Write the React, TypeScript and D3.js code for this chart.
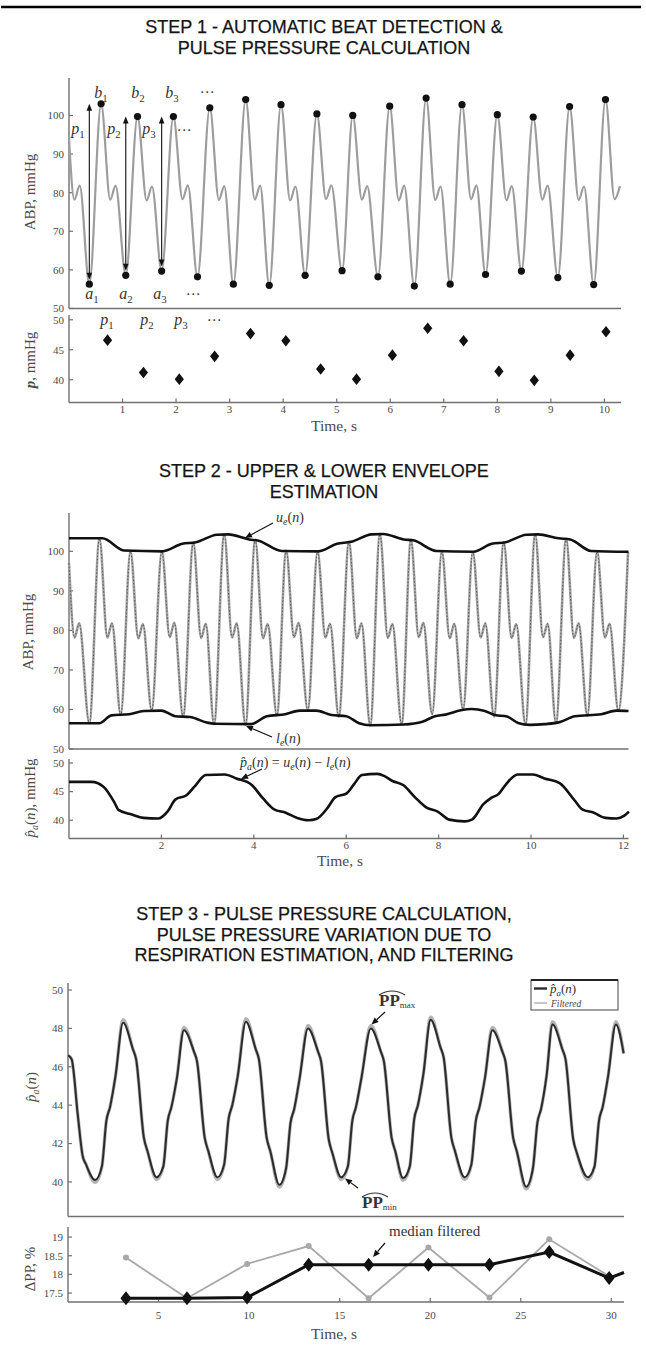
import React from 'react';
import * as d3 from 'd3';

// ---------------- STEP 1 data ----------------
const s1StartT = [0, 0.1, 0.2];
const s1StartV = [94.0, 78.2, 81.8];
const s1TroughT = [0.38, 1.06, 1.73, 2.4, 3.07, 3.74, 4.41, 5.1, 5.77, 6.45, 7.12, 7.78, 8.45, 9.13, 9.8];
const s1TroughV = [56.3, 58.6, 59.7, 58.2, 56.3, 56.0, 58.6, 59.8, 58.2, 55.8, 56.3, 58.8, 59.7, 58.0, 56.2];
const s1PeakT = [0.6, 1.28, 1.95, 2.63, 3.3, 3.96, 4.63, 5.3, 5.99, 6.67, 7.34, 8.0, 8.67, 9.35, 10.02];
const s1PeakV = [103.0, 99.7, 99.7, 102.0, 104.1, 102.8, 100.4, 100.0, 102.4, 104.5, 102.8, 100.2, 99.6, 102.3, 104.1];
const s1NotchT = [0.77, 1.45, 2.12, 2.8, 3.47, 4.13, 4.8, 5.47, 6.16, 6.84, 7.51, 8.17, 8.84, 9.52, 10.19];
const s1NotchV = [78.2, 78.0, 78.3, 78.1, 78.2, 78.0, 78.3, 78.2, 78.0, 78.1, 78.3, 78.0, 78.2, 78.1, 78.3];
const s1BumpT = [0.87, 1.55, 2.22, 2.9, 3.57, 4.23, 4.9, 5.57, 6.26, 6.94, 7.61, 8.27, 8.94, 9.62, 10.29];
const s1BumpV = [81.8, 81.6, 81.9, 81.7, 81.8, 81.6, 81.9, 81.7, 81.8, 81.6, 81.9, 81.7, 81.8, 81.6, 81.7];
const s1PT = [0.72, 1.39, 2.06, 2.72, 3.39, 4.05, 4.7, 5.37, 6.04, 6.7, 7.37, 8.03, 8.69, 9.36, 10.03];
const s1PV = [46.6, 41.2, 40.1, 43.9, 47.7, 46.5, 41.8, 40.1, 44.1, 48.6, 46.5, 41.4, 39.9, 44.1, 48.0];
const s1XTicks = [1, 2, 3, 4, 5, 6, 7, 8, 9, 10];
const s1YTicks = [50, 60, 70, 80, 90, 100];
const s1PTicks = [40, 45, 50];

// ---------------- STEP 2 data ----------------
const s2StartT = [0, 0.12, 0.22];
const s2StartV = [97.0, 78.2, 81.8];
const s2TroughT = [0.44, 1.12, 1.79, 2.47, 3.14, 3.82, 4.5, 5.17, 5.84, 6.52, 7.2, 7.86, 8.53, 9.2, 9.88, 10.54, 11.22, 11.89];
const s2TroughV = [56.5, 58.6, 59.7, 58.2, 56.3, 56.1, 58.6, 59.8, 58.2, 56.0, 56.3, 58.8, 60.0, 58.2, 56.2, 56.5, 58.4, 59.7];
const s2PeakT = [0.66, 1.33, 2.01, 2.69, 3.36, 4.03, 4.7, 5.38, 6.06, 6.73, 7.4, 8.07, 8.74, 9.41, 10.09, 10.76, 11.43, 12.1];
const s2PeakV = [103.2, 100.0, 100.0, 102.2, 104.3, 102.9, 100.2, 100.0, 102.4, 104.4, 102.9, 100.0, 99.9, 102.3, 104.3, 103.2, 100.0, 99.8];
const s2NotchT = [0.83, 1.5, 2.18, 2.86, 3.53, 4.2, 4.87, 5.55, 6.23, 6.9, 7.57, 8.24, 8.91, 9.58, 10.26, 10.93, 11.6];
const s2NotchV = [78.2, 78.0, 78.3, 78.1, 78.2, 78.0, 78.3, 78.2, 78.0, 78.1, 78.3, 78.0, 78.2, 78.1, 78.3, 78.1, 78.2];
const s2BumpT = [0.93, 1.6, 2.28, 2.96, 3.63, 4.3, 4.97, 5.65, 6.33, 7.0, 7.67, 8.34, 9.01, 9.68, 10.36, 11.03, 11.7];
const s2BumpV = [81.8, 81.6, 81.9, 81.7, 81.8, 81.6, 81.9, 81.7, 81.8, 81.6, 81.9, 81.7, 81.8, 81.6, 81.7, 81.8, 81.7];
const s2UpperT = [0, 0.72, 1.2, 2.02, 2.45, 2.75, 3.2, 3.45, 3.9, 4.1, 4.6, 5.4, 5.8, 6.1, 6.55, 6.8, 7.25, 7.45, 7.95, 8.75, 9.15, 9.45, 9.9, 10.15, 10.6, 10.85, 11.3, 12.11];
const s2UpperV = [103.3, 103.3, 100.2, 100.0, 101.9, 102.3, 104.2, 104.3, 103.0, 102.7, 100.1, 100.0, 101.9, 102.4, 104.3, 104.4, 103.0, 102.8, 100.1, 99.9, 101.9, 102.3, 104.2, 104.3, 103.3, 103.0, 100.1, 99.9];
const s2LowerT = [0, 0.65, 0.92, 1.3, 1.62, 2.0, 2.3, 2.62, 2.98, 3.15, 3.95, 4.28, 4.68, 5.0, 5.35, 5.68, 6.0, 6.28, 6.52, 7.25, 7.65, 7.92, 8.15, 8.48, 8.72, 8.98, 9.22, 9.48, 9.72, 9.98, 10.3, 10.62, 10.95, 11.52, 11.85, 12.11];
const s2LowerV = [56.5, 56.5, 58.5, 58.8, 59.6, 59.7, 58.3, 58.1, 56.7, 56.4, 56.3, 58.3, 58.8, 59.7, 59.7, 58.6, 58.3, 56.5, 56.0, 56.2, 56.9, 58.3, 58.7, 59.8, 60.1, 59.7, 58.6, 58.2, 56.6, 56.1, 56.3, 56.8, 58.3, 58.8, 59.7, 59.6];
const s2PaT = [0, 0.49, 0.74, 0.99, 1.07, 1.36, 1.61, 1.93, 2.14, 2.3, 2.55, 2.72, 2.96, 3.37, 3.62, 3.95, 4.2, 4.44, 4.69, 4.94, 5.19, 5.35, 5.6, 5.76, 6.01, 6.17, 6.34, 6.67, 6.83, 6.99, 7.24, 7.49, 7.74, 7.98, 8.23, 8.56, 8.72, 8.97, 9.14, 9.3, 9.47, 9.71, 10.04, 10.29, 10.62, 10.95, 11.11, 11.36, 11.61, 11.85, 12.02, 12.12];
const s2PaV = [46.7, 46.7, 45.9, 43.0, 41.8, 41.0, 40.4, 40.3, 41.6, 43.6, 44.4, 45.9, 47.9, 48.0, 47.3, 46.2, 43.8, 41.9, 41.3, 40.4, 40.0, 40.2, 42.2, 44.0, 44.7, 46.3, 47.9, 48.1, 47.7, 46.9, 46.1, 44.0, 42.2, 41.5, 40.1, 39.8, 40.1, 42.8, 43.9, 44.6, 46.4, 48.0, 48.0, 47.3, 46.5, 43.4, 41.9, 41.3, 40.4, 40.3, 40.8, 41.5];
const s2XTicks = [2, 4, 6, 8, 10, 12];
const s2YTicks = [50, 60, 70, 80, 90, 100];
const s2PTicks = [40, 45, 50];

// ---------------- STEP 3 data ----------------
const s3StartT = [0, 0.2, 0.55, 0.8, 1.0];
const s3StartV = [46.6, 46.4, 43.4, 41.4, 40.9];
const s3TroughT = [1.5, 4.89, 8.25, 11.67, 15.08, 18.5, 21.9, 25.3, 28.7];
const s3TroughV = [40.1, 40.25, 40.25, 39.85, 40.25, 40.2, 40.25, 39.75, 40.25];
const s3FiltTroughV = [39.98, 40.13, 40.13, 39.73, 40.13, 40.08, 40.13, 39.63, 40.13];
const s3RiseAT = [1.87, 5.26, 8.62, 12.04, 15.45, 18.87, 22.27, 25.67, 29.07];
const s3RiseAV = [40.8, 40.8, 40.9, 40.7, 40.8, 40.8, 40.9, 40.7, 40.8];
const s3RiseBT = [2.12, 5.51, 8.87, 12.29, 15.7, 19.12, 22.52, 25.92, 29.32];
const s3RiseBV = [43.2, 43.2, 43.3, 43.1, 43.2, 43.3, 43.2, 43.1, 43.2];
const s3RiseCT = [2.32, 5.71, 9.07, 12.49, 15.9, 19.32, 22.72, 26.12, 29.52];
const s3RiseCV = [43.9, 43.9, 44.0, 43.8, 43.9, 44.0, 43.9, 43.8, 43.9];
const s3RiseDT = [2.62, 6.01, 9.37, 12.79, 16.2, 19.62, 23.02, 26.42, 29.82];
const s3RiseDV = [45.5, 45.4, 45.5, 45.4, 45.4, 45.6, 45.4, 45.5, 45.5];
const s3PeakT = [3.04, 6.4, 9.82, 13.25, 16.72, 20.02, 23.43, 26.75, 30.25];
const s3PeakV = [48.3, 47.9, 48.35, 48.0, 48.0, 48.45, 47.9, 48.2, 48.2];
const s3FiltPeakV = [48.45, 48.05, 48.5, 48.15, 48.15, 48.6, 48.05, 48.35, 48.35];
const s3FallAT = [3.59, 6.95, 10.37, 13.8, 17.27, 20.57, 23.98, 27.3];
const s3FallAV = [46.9, 46.8, 46.9, 46.8, 46.8, 47.0, 46.8, 46.9];
const s3FallBT = [3.76, 7.12, 10.54, 13.97, 17.44, 20.74, 24.15, 27.47];
const s3FallBV = [46.4, 46.3, 46.4, 46.3, 46.3, 46.5, 46.3, 46.4];
const s3FallCT = [4.19, 7.55, 10.97, 14.4, 17.87, 21.17, 24.58, 27.9];
const s3FallCV = [42.3, 42.3, 42.3, 42.2, 42.3, 42.3, 42.3, 42.2];
const s3FallDT = [4.39, 7.75, 11.17, 14.6, 18.07, 21.37, 24.78, 28.1];
const s3FallDV = [41.6, 41.6, 41.6, 41.5, 41.6, 41.6, 41.6, 41.5];
const s3EndT = [30.68];
const s3EndV = [46.7];
const s3DT = [3.2, 6.57, 9.89, 13.29, 16.6, 19.9, 23.27, 26.57, 29.88];
const s3DeltaPP = [18.45, 17.36, 18.28, 18.76, 17.36, 18.72, 17.38, 18.94, 17.95];
const s3MedianPP = [17.36, 17.36, 17.38, 18.26, 18.26, 18.26, 18.26, 18.6, 17.9];
const s3MedianEndT = [30.7];
const s3MedianEndV = [18.05];
const s3XTicks = [5, 10, 15, 20, 25, 30];
const s3YTicks = [40, 42, 44, 46, 48, 50];
const s3DTicks = [17.5, 18, 18.5, 19];

// ---------------- helpers ----------------
const AX = '#707070';
const TXT = '#4a4a4a';
const SERIF = '"Liberation Serif", "Times New Roman", "DejaVu Serif", serif';
const SANS = '"Liberation Sans", Arial, Helvetica, sans-serif';

type P2 = [number, number];
function merge(...pairs: [number[], number[]][]): P2[] {
  const out: P2[] = [];
  pairs.forEach(([ts, vs]) => ts.forEach((t, i) => out.push([t, vs[i]])));
  return out.sort((a, b) => a[0] - b[0]);
}

function LeftAxis({ x, top, bottom, y, ticks, size = 11 }: any) {
  return (
    <g>
      <line x1={x} x2={x} y1={top} y2={bottom} stroke={AX} strokeWidth={1.4} />
      {ticks.map((t: number) => (
        <g key={t}>
          <line x1={x} x2={x + 4} y1={y(t)} y2={y(t)} stroke={AX} strokeWidth={1.2} />
          <text x={x - 5} y={y(t)} dy="0.35em" textAnchor="end" fontSize={size} fill={TXT} fontFamily={SERIF}>
            {String(t)}
          </text>
        </g>
      ))}
    </g>
  );
}

function BottomAxis({ y0, left, right, x, ticks, labelY, size = 11 }: any) {
  return (
    <g>
      <line x1={left} x2={right} y1={y0} y2={y0} stroke={AX} strokeWidth={1.4} />
      {ticks &&
        ticks.map((t: number) => (
          <g key={t}>
            <line x1={x(t)} x2={x(t)} y1={y0} y2={y0 - 4} stroke={AX} strokeWidth={1.2} />
            <text x={x(t)} y={labelY} textAnchor="middle" fontSize={size} fill={TXT} fontFamily={SERIF}>
              {String(t)}
            </text>
          </g>
        ))}
    </g>
  );
}

function Arrow({ x1, y1, x2, y2, len = 7, w = 3, color = '#111', sw = 1.2 }: any) {
  const a = Math.atan2(y2 - y1, x2 - x1);
  const bx = x2 - len * Math.cos(a);
  const by = y2 - len * Math.sin(a);
  const px = -Math.sin(a) * w;
  const py = Math.cos(a) * w;
  return (
    <g>
      <line x1={x1} y1={y1} x2={bx} y2={by} stroke={color} strokeWidth={sw} />
      <polygon points={`${x2},${y2} ${bx + px},${by + py} ${bx - px},${by - py}`} fill={color} />
    </g>
  );
}

function Title({ lines, y0 }: { lines: string[]; y0: number }) {
  return (
    <g>
      {lines.map((l, i) => (
        <text key={i} x={324} y={y0 + i * 20.5} textAnchor="middle" fontSize={18} fontFamily={SANS} fill="#151515" stroke="#151515" strokeWidth={0.25}>
          {l}
        </text>
      ))}
    </g>
  );
}

function MathSub({ x, y, m, s, size = 16, anchor = 'middle' }: any) {
  return (
    <text x={x} y={y} textAnchor={anchor} fontFamily={SERIF} fontSize={size} fill="#333">
      <tspan fontStyle="italic">{m}</tspan>
      <tspan fontSize={size * 0.68} dy={size * 0.22}>{s}</tspan>
    </text>
  );
}

const Dots = ({ x, y, size = 15 }: any) => (
  <text x={x} y={y} textAnchor="middle" fontFamily='"DejaVu Sans", sans-serif' fontSize={size} fill="#444">⋯</text>
);

const diamond = (hw: number, hh: number) => `M0,${-hh}L${hw},0L0,${hh}L${-hw},0Z`;

// ---------------- component ----------------
export default function App() {
  // STEP 1 scales
  const x1 = d3.scaleLinear().domain([0, 10.31]).range([69, 621]);
  const y1 = d3.scaleLinear().domain([50, 109.7]).range([308.5, 78]);
  const y1b = d3.scaleLinear().domain([36.2, 50.8]).range([402.5, 315]);
  const wave1 = merge([s1StartT, s1StartV], [s1TroughT, s1TroughV], [s1PeakT, s1PeakV], [s1NotchT, s1NotchV], [s1BumpT, s1BumpV]);
  const line1 = d3.line<P2>().x((d) => x1(d[0])).y((d) => y1(d[1])).curve(d3.curveMonotoneX);

  // STEP 2 scales
  const x2 = d3.scaleLinear().domain([0, 12.11]).range([69, 628.5]);
  const y2 = d3.scaleLinear().domain([50, 109.7]).range([749, 513]);
  const y2b = d3.scaleLinear().domain([36.8, 50.7]).range([838.5, 759]);
  const wave2 = merge([s2StartT, s2StartV], [s2TroughT, s2TroughV], [s2PeakT, s2PeakV], [s2NotchT, s2NotchV], [s2BumpT, s2BumpV]);
  const line2 = d3.line<P2>().x((d) => x2(d[0])).y((d) => y2(d[1])).curve(d3.curveMonotoneX);
  const upper = merge([s2UpperT, s2UpperV]);
  const lower = merge([s2LowerT, s2LowerV]);
  const pa2 = merge([s2PaT, s2PaV]);
  const line2b = d3.line<P2>().x((d) => x2(d[0])).y((d) => y2b(d[1])).curve(d3.curveMonotoneX);

  // STEP 3 scales
  const x3 = d3.scaleLinear().domain([0, 30.7]).range([68, 624]);
  const y3 = d3.scaleLinear().domain([38.2, 50.35]).range([1216.5, 983.3]);
  const y3b = d3.scaleLinear().domain([17.26, 19.27]).range([1302, 1227]);
  const shoulders: [number[], number[]][] = [
    [s3StartT, s3StartV], [s3RiseAT, s3RiseAV], [s3RiseBT, s3RiseBV], [s3RiseCT, s3RiseCV], [s3RiseDT, s3RiseDV],
    [s3FallAT, s3FallAV], [s3FallBT, s3FallBV], [s3FallCT, s3FallCV], [s3FallDT, s3FallDV], [s3EndT, s3EndV],
  ];
  const raw3 = merge(...shoulders, [s3TroughT, s3TroughV], [s3PeakT, s3PeakV]);
  const filt3 = merge(...shoulders, [s3TroughT, s3FiltTroughV], [s3PeakT, s3FiltPeakV]);
  const line3 = d3.line<P2>().x((d) => x3(d[0])).y((d) => y3(d[1])).curve(d3.curveMonotoneX);
  const dpp = merge([s3DT, s3DeltaPP]);
  const med = merge([s3DT, s3MedianPP], [s3MedianEndT, s3MedianEndV]);
  const line3b = d3.line<P2>().x((d) => x3(d[0])).y((d) => y3b(d[1]));

  const yLab = (x: number, y: number, content: any, size = 15) => (
    <text transform={`translate(${x},${y}) rotate(-90)`} textAnchor="middle" fontFamily={SERIF} fontSize={size} fill={TXT}>
      {content}
    </text>
  );

  return (
    <svg width={646} height={1355} style={{ position: 'absolute', left: 0, top: 0, background: '#fff' }} fontFamily={SERIF}>
      <rect x={0} y={0} width={646} height={1355} fill="#fff" />
      <line x1={1} x2={641} y1={7} y2={7} stroke="#000" strokeWidth={2.6} />

      {/* ================= STEP 1 ================= */}
      <Title lines={['STEP 1 - AUTOMATIC BEAT DETECTION &', 'PULSE PRESSURE CALCULATION']} y0={33} />
      <LeftAxis x={69} top={78} bottom={308.5} y={y1} ticks={s1YTicks} />
      <BottomAxis y0={308.5} left={69} right={621} />
      <path d={line1(wave1) || ''} fill="none" stroke="#9d9d9d" strokeWidth={2.2} />
      {[0, 1, 2].map((i) => {
        const xx = x1(s1TroughT[i]);
        const yt = y1(s1PeakV[i]);
        const yb = y1(s1TroughV[i]) - 4.5;
        return (
          <g key={i}>
            <line x1={xx} x2={xx} y1={yt + 6} y2={yb - 6} stroke="#222" strokeWidth={1.2} />
            <polygon points={`${xx},${yt} ${xx - 2.8},${yt + 7} ${xx + 2.8},${yt + 7}`} fill="#111" />
            <polygon points={`${xx},${yb} ${xx - 2.8},${yb - 7} ${xx + 2.8},${yb - 7}`} fill="#111" />
          </g>
        );
      })}
      {s1TroughT.map((t, i) => (
        <circle key={'a' + i} cx={x1(t)} cy={y1(s1TroughV[i])} r={3.6} fill="#111" />
      ))}
      {s1PeakT.map((t, i) => (
        <circle key={'b' + i} cx={x1(t)} cy={y1(s1PeakV[i])} r={3.6} fill="#111" />
      ))}
      <MathSub x={101} y={98} m="b" s="1" />
      <MathSub x={138} y={98} m="b" s="2" />
      <MathSub x={172} y={98} m="b" s="3" />
      <Dots x={207} y={97} />
      <MathSub x={78} y={134} m="p" s="1" />
      <MathSub x={114} y={134} m="p" s="2" />
      <MathSub x={149} y={134} m="p" s="3" />
      <Dots x={184} y={135} />
      <MathSub x={92} y={299} m="a" s="1" />
      <MathSub x={126} y={299} m="a" s="2" />
      <MathSub x={160} y={299} m="a" s="3" />
      <Dots x={193} y={299} />
      {yLab(35, 192, 'ABP, mmHg')}

      <LeftAxis x={69} top={315} bottom={402.5} y={y1b} ticks={s1PTicks} />
      <BottomAxis y0={402.5} left={69} right={621} x={x1} ticks={s1XTicks} labelY={413} />
      {s1PT.map((t, i) => (
        <path key={'d' + i} d={diamond(4.6, 5.8)} transform={`translate(${x1(t)},${y1b(s1PV[i])})`} fill="#111" />
      ))}
      <MathSub x={107} y={325} m="p" s="1" />
      <MathSub x={147} y={325} m="p" s="2" />
      <MathSub x={181} y={325} m="p" s="3" />
      <Dots x={214} y={325} />
      {yLab(35, 360, (<><tspan fontWeight="bold" fontStyle="italic">p</tspan>, mmHg</>))}
      <text x={334} y={431} textAnchor="middle" fontSize={15.5} fill={TXT}>Time, s</text>

      {/* ================= STEP 2 ================= */}
      <Title lines={['STEP 2 - UPPER & LOWER ENVELOPE', 'ESTIMATION']} y0={477} />
      <LeftAxis x={69} top={513} bottom={749} y={y2} ticks={s2YTicks} />
      <BottomAxis y0={749} left={69} right={628.5} />
      <path d={line2(wave2) || ''} fill="none" stroke="#a4a4a4" strokeWidth={2.6} />
      <path d={line2(wave2) || ''} fill="none" stroke="#555" strokeWidth={0.9} strokeDasharray="1.6 1.8" />
      <path d={line2(upper) || ''} fill="none" stroke="#111" strokeWidth={2.6} />
      <path d={line2(lower) || ''} fill="none" stroke="#111" strokeWidth={2.6} />
      <text x={276} y={522} fontSize={14} fill="#333">
        <tspan fontStyle="italic">u</tspan><tspan fontSize={10} dy={3} fontStyle="italic">e</tspan>
        <tspan dy={-3}>(</tspan><tspan fontStyle="italic">n</tspan>)
      </text>
      <Arrow x1={273} y1={523} x2={245} y2={538} />
      <text x={276} y={743} fontSize={14} fill="#333">
        <tspan fontStyle="italic">l</tspan><tspan fontSize={10} dy={3} fontStyle="italic">e</tspan>
        <tspan dy={-3}>(</tspan><tspan fontStyle="italic">n</tspan>)
      </text>
      <Arrow x1={272} y1={737} x2={246} y2={726} />
      {yLab(33, 632, 'ABP, mmHg')}

      <LeftAxis x={69} top={759} bottom={838.5} y={y2b} ticks={s2PTicks} />
      <BottomAxis y0={838.5} left={69} right={628.5} x={x2} ticks={s2XTicks} labelY={848.5} />
      <path d={line2b(pa2) || ''} fill="none" stroke="#111" strokeWidth={2.6} />
      <text x={240} y={767} fontSize={14} fill="#333">
        <tspan fontStyle="italic">p̂</tspan><tspan fontSize={10} dy={3} fontStyle="italic">a</tspan>
        <tspan dy={-3}>(</tspan><tspan fontStyle="italic">n</tspan>) = <tspan fontStyle="italic">u</tspan>
        <tspan fontSize={10} dy={3} fontStyle="italic">e</tspan><tspan dy={-3}>(</tspan>
        <tspan fontStyle="italic">n</tspan>) − <tspan fontStyle="italic">l</tspan>
        <tspan fontSize={10} dy={3} fontStyle="italic">e</tspan><tspan dy={-3}>(</tspan>
        <tspan fontStyle="italic">n</tspan>)
      </text>
      <Arrow x1={262} y1={769} x2={241} y2={779} />
      {yLab(35, 798, (<><tspan fontStyle="italic">p̂</tspan><tspan fontSize={10} dy={3} fontStyle="italic">a</tspan><tspan dy={-3}>(</tspan><tspan fontStyle="italic">n</tspan>), mmHg</>))}
      <text x={340} y={866} textAnchor="middle" fontSize={15.5} fill={TXT}>Time, s</text>

      {/* ================= STEP 3 ================= */}
      <Title lines={['STEP 3 - PULSE PRESSURE CALCULATION,', 'PULSE PRESSURE VARIATION DUE TO', 'RESPIRATION ESTIMATION, AND FILTERING']} y0={920} />
      <LeftAxis x={68} top={983} bottom={1216.5} y={y3} ticks={s3YTicks} />
      <BottomAxis y0={1216.5} left={68} right={624} />
      <path d={line3(filt3) || ''} fill="none" stroke="#b4b4b4" strokeWidth={3.4} />
      <path d={line3(raw3) || ''} fill="none" stroke="#2b2b2b" strokeWidth={2} />
      <rect x={531} y={980} width={87} height={30} fill="#fff" stroke="#444" strokeWidth={1} />
      <line x1={531} x2={618} y1={980} y2={980} stroke="#222" strokeWidth={2.2} />
      <line x1={534} x2={547} y1={988.5} y2={988.5} stroke="#2b2b2b" strokeWidth={2.4} />
      <text x={550} y={993} fontSize={13} fill="#333">
        <tspan fontStyle="italic">p̂</tspan><tspan fontSize={9} dy={3} fontStyle="italic">a</tspan>
        <tspan dy={-3}>(</tspan><tspan fontStyle="italic">n</tspan>)
      </text>
      <line x1={534} x2={547} y1={1003} y2={1003} stroke="#b4b4b4" strokeWidth={1.5} />
      <text x={551} y={1006.5} fontSize={9.5} fontStyle="italic" fill="#444">Filtered</text>
      <text x={379} y={1006} fontSize={17} fontWeight="bold" fill="#333">PP<tspan fontSize={9} fontWeight="normal" dy={2}>max</tspan></text>
      <path d="M379,995 Q392,987 405,995" fill="none" stroke="#333" strokeWidth={1.1} />
      <Arrow x1={385} y1={1012} x2={371.5} y2={1024.5} />
      <text x={362} y={1208} fontSize={17} fontWeight="bold" fill="#333">PP<tspan fontSize={9} fontWeight="normal" dy={2}>min</tspan></text>
      <path d="M362,1197 Q375,1189 388,1197" fill="none" stroke="#333" strokeWidth={1.1} />
      <Arrow x1={358} y1={1188} x2={345} y2={1178.5} />
      {yLab(36, 1087, (<><tspan fontStyle="italic">p̂</tspan><tspan fontSize={10} dy={3} fontStyle="italic">a</tspan><tspan dy={-3}>(</tspan><tspan fontStyle="italic">n</tspan>)</>))}

      <LeftAxis x={68} top={1227} bottom={1302} y={y3b} ticks={s3DTicks} />
      <BottomAxis y0={1302} left={68} right={624} x={x3} ticks={s3XTicks} labelY={1319} />
      <path d={line3b(dpp) || ''} fill="none" stroke="#a8a8a8" strokeWidth={1.8} />
      {dpp.map((d, i) => (
        <circle key={'g' + i} cx={x3(d[0])} cy={y3b(d[1])} r={3} fill="#a8a8a8" />
      ))}
      <path d={line3b(med) || ''} fill="none" stroke="#111" strokeWidth={3} />
      {s3DT.map((t, i) => (
        <path key={'m' + i} d={diamond(5.5, 7)} transform={`translate(${x3(t)},${y3b(s3MedianPP[i])})`} fill="#111" />
      ))}
      <text x={389} y={1236} fontSize={15} fill="#333">median filtered</text>
      <Arrow x1={385} y1={1243} x2={373} y2={1257} />
      {yLab(35, 1269, 'ΔPP, %')}
      <text x={334} y={1339} textAnchor="middle" fontSize={15.5} fill={TXT}>Time, s</text>
    </svg>
  );
}
